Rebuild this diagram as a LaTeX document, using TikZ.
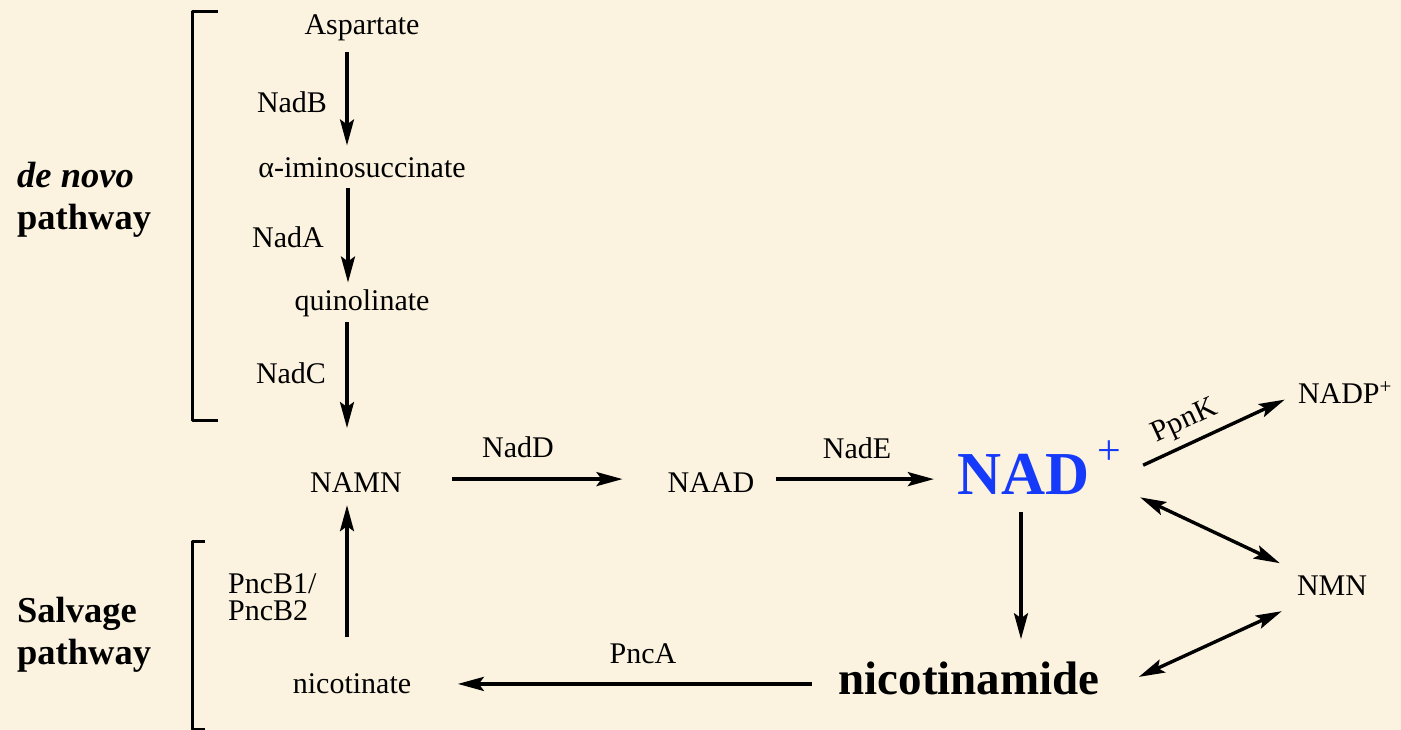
\documentclass[tikz,border=0pt]{standalone}
\usepackage{fontspec}
\setmainfont{Liberation Serif}
\usetikzlibrary{arrows.meta}
\definecolor{parchment}{RGB}{251,243,223}
\definecolor{nadblue}{RGB}{22,58,250}
\begin{document}
\begin{tikzpicture}[x=1pt,y=-1pt,line join=round,
       mol/.style={font=\fontsize{30}{34}\selectfont,inner sep=0pt,anchor=base},
       enz/.style={font=\fontsize{30}{34}\selectfont,inner sep=0pt,anchor=base},
       pathlbl/.style={font=\fontsize{36.5}{40}\selectfont\bfseries,inner sep=0pt,anchor=base west},
       rxn/.style={line width=3.4pt,-{Stealth[length=26pt,width=14pt,inset=5pt]}},
       revrxn/.style={line width=3.4pt,{Stealth[length=26pt,width=14pt,inset=5pt]}-{Stealth[length=26pt,width=14pt,inset=5pt]}}] % NAD+ pathways
       \fill[parchment] (0,0) rectangle (1401,730);
       \useasboundingbox (0,0) rectangle (1401,730);
       % brackets
       \draw[line width=3pt] (218,12)--(192,12)--(192,420)--(218,420);
       \draw[line width=3pt] (205,541)--(192,541)--(192,729)--(205,729);
       \node[pathlbl] (denovo) at (17,188) {\itshape de novo};
       \node[pathlbl] (pathA) at (17,230) {pathway};
       \node[pathlbl] (salv) at (17,622) {Salvage};
       \node[pathlbl] (pathB) at (17,664) {pathway};
       % metabolites
       \node[mol] (asp) at (362,35) {Aspartate};
       \node[mol] (ims) at (362,178) {α-iminosuccinate};
       \node[mol] (quin) at (362,310) {quinolinate};
       \node[mol] (namn) at (356,492) {NAMN};
       \node[mol] (naad) at (711,492) {NAAD};
       \node[mol,font=\fontsize{61}{64}\selectfont\bfseries,text=nadblue] (nad) at (1039,494)
            {NAD\kern8pt\raisebox{30pt}{\fontsize{42}{42}\selectfont\mdseries +}};
       \node[mol] (nadp) at (1345,403) {NADP\textsuperscript{+}};
       \node[mol] (nmn) at (1332,595) {NMN};
       \node[mol,font=\fontsize{47}{50}\selectfont\bfseries] (nicam) at (969,694) {nicotinamide};
       \node[mol] (nicot) at (352,693) {nicotinate};
       % enzymes
       \node[enz] (nadB) at (292,113) {NadB};
       \node[enz] (nadA) at (288,248) {NadA};
       \node[enz] (nadC) at (291,383) {NadC};
       \node[enz] (nadD) at (518,457) {NadD};
       \node[enz] (nadE) at (857,458) {NadE};
       \node[enz] (pncA) at (643,663) {PncA};
       \node[enz,anchor=base west] (pncBa) at (228,593) {PncB1/};
       \node[enz,anchor=base west] (pncBb) at (228,620) {PncB2};
       % reactions
       \draw[rxn,shorten <=10.5pt,shorten >=12.5pt] ([xshift=-15pt]asp.south) -- ([xshift=-15pt]ims.north);
       \draw[rxn,shorten <=10pt,shorten >=6.5pt] ([xshift=-14pt]ims.south) -- ([xshift=-14pt]quin.north);
       \draw[rxn,shorten <=5.5pt,shorten >=44pt] ([xshift=-15pt]quin.south) -- ([xshift=-15pt]quin.south |- namn.north);
       \draw[rxn,shorten <=35.5pt,shorten >=13pt] ([xshift=-5pt]nicot.north) -- ([xshift=-5pt]nicot.north |- namn.south);
       \draw[rxn,shorten <=50pt,shorten >=45pt] ([yshift=3pt]namn.east) -- ([yshift=3pt]namn.east -| naad.west);
       \draw[rxn,shorten <=21pt,shorten >=23pt] ([yshift=3pt]naad.east) -- ([yshift=3pt]naad.east -| nad.west);
       \draw[rxn,shorten <=18pt,shorten >=22pt] ([xshift=-18pt]nad.south) -- ([xshift=-18pt]nad.south |- nicam.north);
       \draw[rxn,shorten <=26pt,shorten >=46.5pt] ([yshift=-6pt]nicam.west) -- ([yshift=-6pt]nicam.west -| nicot.east);
       \draw[rxn] ([shift={(22,-2)}]nad.east) -- node[enz,anchor=south,pos=.36,sloped,above=7pt] (ppnk) {PpnK} ([shift={(-13,7)}]nadp.west);
       \draw[revrxn] ([shift={(19,3)}]nad.south east) -- ([shift={(-17,-22)}]nmn.west);
       \draw[revrxn] ([shift={(39,-1)}]nicam.east) -- ([shift={(-15,26)}]nmn.west);
\end{tikzpicture}
\end{document}
